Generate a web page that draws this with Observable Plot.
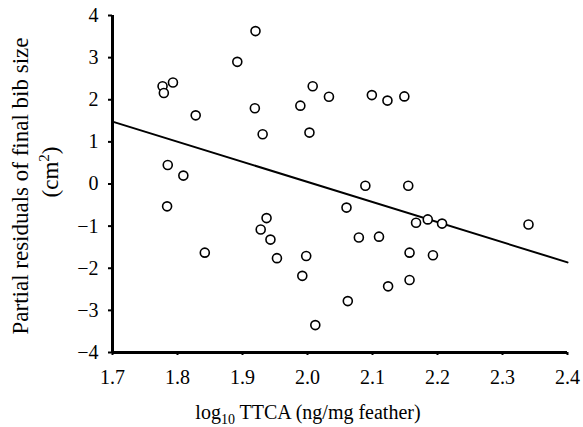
<!DOCTYPE html>
<html><head><meta charset="utf-8">
<script src="https://cdn.jsdelivr.net/npm/d3@7"></script>
<script src="https://cdn.jsdelivr.net/npm/@observablehq/plot@0.6"></script>
<style>body{margin:0;background:#fff}svg{font-family:"Liberation Serif","Times New Roman",serif}</style>
</head><body><div id="chart"></div>
<script>
const ttca = [1.920,1.892,1.777,1.793,1.779,2.008,2.033,1.989,1.919,1.828,1.931,2.003,1.785,1.809,2.099,2.123,2.149,1.784,1.842,1.937,1.928,1.943,1.953,1.998,1.992,2.012,2.060,2.062,2.089,2.155,2.079,2.110,2.167,2.185,2.207,2.340,2.157,2.193,2.157,2.124];
const resid = [3.63,2.90,2.32,2.41,2.16,2.32,2.07,1.86,1.80,1.63,1.18,1.22,0.45,0.20,2.11,1.98,2.08,-0.53,-1.63,-0.81,-1.08,-1.32,-1.76,-1.71,-2.18,-3.35,-0.56,-2.78,-0.04,-0.04,-1.27,-1.25,-0.92,-0.84,-0.94,-0.96,-1.63,-1.69,-2.28,-2.43];
const fitX = [1.7, 2.4];
const fitY = [1.48, -1.86];
const xTicks = [1.7,1.8,1.9,2.0,2.1,2.2,2.3,2.4];
const yTicks = [-4,-3,-2,-1,0,1,2,3,4];

const pts = ttca.map((x,i)=>({x, y: resid[i]}));
const fit = fitX.map((x,i)=>({x, y: fitY[i]}));

const svg = Plot.plot({
  width: 583, height: 427,
  marginLeft: 112, marginRight: 16, marginTop: 15, marginBottom: 75,
  style: {fontFamily: '"Liberation Serif","Times New Roman",serif', fontSize: "20px", background: "#fff", color: "#000"},
  x: {domain: [1.7, 2.4]},
  y: {domain: [-4, 4]},
  marks: [
    Plot.axisX({ticks: xTicks, tickSize: 3, tickPadding: 14, fontSize: 20, strokeWidth: 2, label: null, tickFormat: d => d.toFixed(1)}),
    Plot.axisY({ticks: yTicks, tickSize: 4, tickPadding: 10, fontSize: 20, strokeWidth: 2, label: null, tickFormat: d => d < 0 ? "\u2212" + Math.abs(d) : String(d)}),
    Plot.ruleX([1.7], {stroke: "#000", strokeWidth: 3}),
    Plot.ruleY([-4], {stroke: "#000", strokeWidth: 3}),
    Plot.line(fit, {x: "x", y: "y", stroke: "#000", strokeWidth: 2}),
    Plot.dot(pts, {x: "x", y: "y", r: 4.5, stroke: "#000", fill: "#fff", strokeWidth: 1.6})
  ]
});
document.getElementById("chart").appendChild(svg);

const s = d3.select(svg);
const xl = s.append("text").attr("x", 308).attr("y", 419).attr("text-anchor", "middle")
  .attr("font-size", 20).attr("fill", "#000");
xl.append("tspan").text("log");
xl.append("tspan").attr("font-size", 14).attr("dy", 5).text("10");
xl.append("tspan").attr("dy", -5).text(" TTCA (ng/mg feather)");

s.append("text").attr("transform", "translate(28,186) rotate(-90)").attr("text-anchor", "middle")
  .attr("font-size", 23).attr("fill", "#000").text("Partial residuals of final bib size");
const yl2 = s.append("text").attr("transform", "translate(58,172) rotate(-90)").attr("text-anchor", "middle")
  .attr("font-size", 23).attr("fill", "#000");
yl2.append("tspan").text("(cm");
yl2.append("tspan").attr("font-size", 15).attr("dy", -9).text("2");
yl2.append("tspan").attr("dy", 9).text(")");
</script></body></html>
